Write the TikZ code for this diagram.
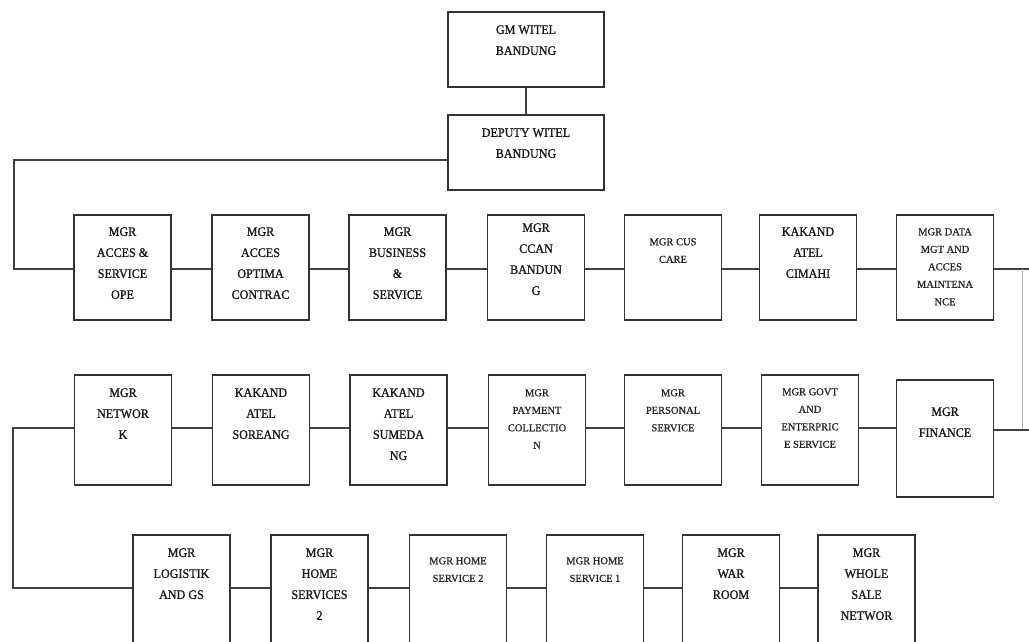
\documentclass[tikz,border=0pt]{standalone}
\usepackage{fontspec}
\setmainfont{Liberation Serif}
\newfontfamily\cond[FakeStretch=0.93,FakeBold=1.1]{Liberation Serif}
\newfontfamily\wide[FakeStretch=1.0,FakeBold=0.8]{Liberation Serif}
\begin{document}
\begin{tikzpicture}[x=1pt,y=-1pt,
  box/.style={draw=black!80, line width=1.8pt, minimum width=97, minimum height=105, inner sep=0},
  lbl/.style={anchor=north, align=center, inner sep=0, text=black!90, font=\cond\fontsize{13}{21}\selectfont},
  slbl/.style={anchor=north, align=center, inner sep=0, text=black!85, font=\wide\fontsize{10.5}{17.5}\selectfont},
  link/.style={draw=black!75, line width=1.6pt},
  faint/.style={draw=black!30, line width=1pt}]
\useasboundingbox (0,0) rectangle (1029,642);
\clip (0,0) rectangle (1029,642);
\fill[white] (0,0) rectangle (1029,642);
% top
\node[box, minimum width=156, minimum height=75] (gm) at (526,49.5) {};
\node[lbl] (tgm) at ([yshift=-14]gm.north) {GM WITEL\\BANDUNG};
\node[box, minimum width=156, minimum height=75] (dep) at (526,152.5) {};
\node[lbl] (tdep) at ([yshift=-14]dep.north) {DEPUTY WITEL\\BANDUNG};
% row 1
\node[box] (a1) at (122.5,267.5) {};
\node[box] (a2) at (260.5,267.5) {};
\node[box] (a3) at (397.5,267.5) {};
\node[box] (a4) at (536,267.5) {};
\node[box] (a5) at (673,267.5) {};
\node[box] (a6) at (808,267.5) {};
\node[box] (a7) at (945,267.5) {};
\node[lbl] (ta1) at ([yshift=-13]a1.north) {MGR\\ACCES \&\\SERVICE\\OPE};
\node[lbl] (ta2) at ([yshift=-13]a2.north) {MGR\\ACCES\\OPTIMA\\CONTRAC};
\node[lbl] (ta3) at ([yshift=-13]a3.north) {MGR\\BUSINESS\\\&\\SERVICE};
\node[lbl] (ta4) at ([yshift=-9]a4.north) {MGR\\CCAN\\BANDUN\\G};
\node[slbl] (ta5) at ([yshift=-24]a5.north) {MGR CUS\\CARE};
\node[lbl] (ta6) at ([yshift=-13]a6.north) {KAKAND\\ATEL\\CIMAHI};
\node[slbl] (ta7) at ([yshift=-14]a7.north) {MGR DATA\\MGT AND\\ACCES\\MAINTENA\\NCE};
% row 2
\node[box, minimum height=110] (b1) at (123,430) {};
\node[box, minimum height=110] (b2) at (261,430) {};
\node[box, minimum height=110] (b3) at (398.5,430) {};
\node[box, minimum height=110] (b4) at (537,430) {};
\node[box, minimum height=110] (b5) at (673,430) {};
\node[box, minimum height=110] (b6) at (810,430) {};
\node[box, minimum height=117] (b7) at (945,438.5) {};
\node[lbl] (tb1) at ([yshift=-14]b1.north) {MGR\\NETWOR\\K};
\node[lbl] (tb2) at ([yshift=-14]b2.north) {KAKAND\\ATEL\\SOREANG};
\node[lbl] (tb3) at ([yshift=-14]b3.north) {KAKAND\\ATEL\\SUMEDA\\NG};
\node[slbl] (tb4) at ([yshift=-15]b4.north) {MGR\\PAYMENT\\COLLECTIO\\N};
\node[slbl] (tb5) at ([yshift=-15]b5.north) {MGR\\PERSONAL\\SERVICE};
\node[slbl] (tb6) at ([yshift=-14]b6.north) {MGR GOVT\\AND\\ENTERPRIC\\E SERVICE};
\node[lbl] (tb7) at ([yshift=-28]b7.north) {MGR\\FINANCE};
% row 3
\node[box, minimum height=110] (c1) at (181.5,590) {};
\node[box, minimum height=110] (c2) at (319.5,590) {};
\node[box, minimum height=110] (c3) at (458,590) {};
\node[box, minimum height=110] (c4) at (595,590) {};
\node[box, minimum height=110] (c5) at (731,590) {};
\node[box, minimum height=110] (c6) at (866.5,590) {};
\node[lbl] (tc1) at ([yshift=-14]c1.north) {MGR\\LOGISTIK\\AND GS};
\node[lbl] (tc2) at ([yshift=-14]c2.north) {MGR\\HOME\\SERVICES\\2};
\node[slbl] (tc3) at ([yshift=-23]c3.north) {MGR HOME\\SERVICE 2};
\node[slbl] (tc4) at ([yshift=-23]c4.north) {MGR HOME\\SERVICE 1};
\node[lbl] (tc5) at ([yshift=-14]c5.north) {MGR\\WAR\\ROOM};
\node[lbl] (tc6) at ([yshift=-14]c6.north) {MGR\\WHOLE\\SALE\\NETWOR};
% spine coordinates
\coordinate (L1) at (14,160);
\coordinate (L2) at (14,269);
\coordinate (R1) at (1022,269);
\coordinate (R2) at (1022,430);
\coordinate (RE1) at (1031,269);
\coordinate (RE2) at (1031,430);
\coordinate (L3) at (13,428);
\coordinate (L4) at (13,588);
% connectors
\draw[link] (gm.south) -- (dep.north);
\draw[link] ([yshift=-7.5]dep.west) -- (L1) -- (L2) -- (a1.west |- L2);
\draw[link] (a1.east |- L2) -- (a2.west |- L2);
\draw[link] (a2.east |- L2) -- (a3.west |- L2);
\draw[link] (a3.east |- L2) -- (a4.west |- L2);
\draw[link] (a4.east |- L2) -- (a5.west |- L2);
\draw[link] (a5.east |- L2) -- (a6.west |- L2);
\draw[link] (a6.east |- L2) -- (a7.west |- L2);
\draw[link] (a7.east |- L2) -- (RE1);
\draw[faint] (R1) -- (R2);
\draw[link] (b7.east |- R2) -- (RE2);
\draw[link] (b6.east |- L3) -- (b7.west |- L3);
\draw[link] (b5.east |- L3) -- (b6.west |- L3);
\draw[link] (b4.east |- L3) -- (b5.west |- L3);
\draw[link] (b3.east |- L3) -- (b4.west |- L3);
\draw[link] (b2.east |- L3) -- (b3.west |- L3);
\draw[link] (b1.east |- L3) -- (b2.west |- L3);
\draw[link] (b1.west |- L3) -- (L3) -- (L4) -- (c1.west |- L4);
\draw[link] (c1.east |- L4) -- (c2.west |- L4);
\draw[link] (c2.east |- L4) -- (c3.west |- L4);
\draw[link] (c3.east |- L4) -- (c4.west |- L4);
\draw[link] (c4.east |- L4) -- (c5.west |- L4);
\draw[link] (c5.east |- L4) -- (c6.west |- L4);
\end{tikzpicture}
\end{document}
